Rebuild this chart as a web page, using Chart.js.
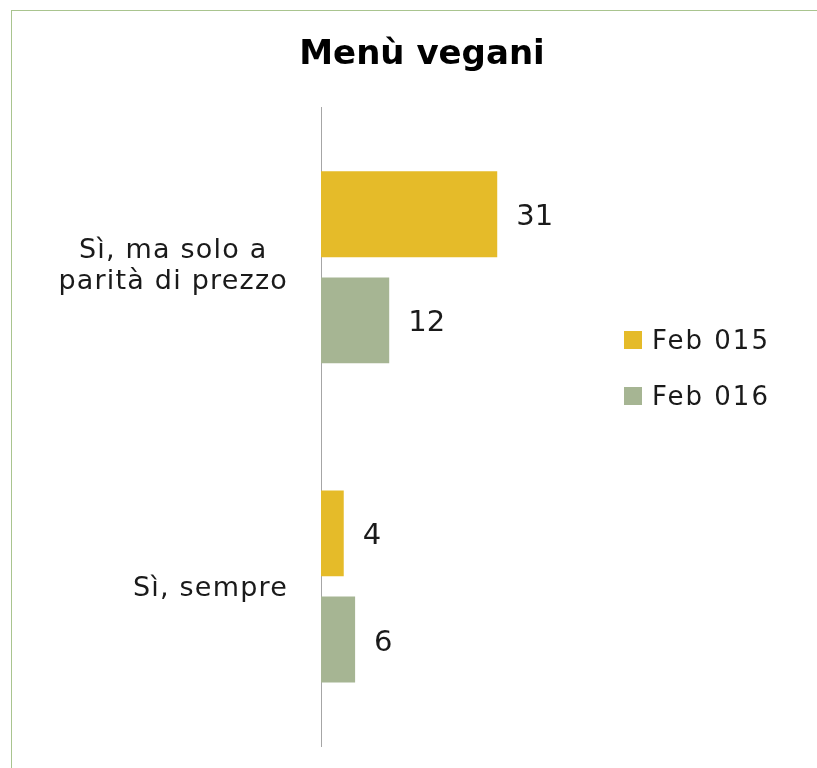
<!DOCTYPE html>
<html><head><meta charset="utf-8">
<script src="https://cdn.jsdelivr.net/npm/chart.js@4/dist/chart.umd.min.js"></script>
<style>
html,body{margin:0;padding:0;background:#fff;overflow:hidden;width:817px;height:768px;}
#frame{position:absolute;left:11px;top:10px;width:900px;height:900px;border:1px solid #a9c48f;box-sizing:border-box;}
#wrap{position:absolute;left:0;top:0;width:844px;height:768px;}
</style></head>
<body>
<div id="frame"></div>
<div id="wrap"><canvas id="c" width="844" height="768"></canvas></div>
<script>
const categories = [['Sì, ma solo a','parità di prezzo'], ['Sì, sempre']];
const seriesNames = ['Feb 015', 'Feb 016'];
const feb015 = [31, 4];
const feb016 = [12, 6];
const colors = ['#e5bb29', '#a6b593'];
const FONT = "'DejaVu Sans', sans-serif";
const TXT = '#1a1a1a';

const valueLabels = {
  id: 'valueLabels',
  afterDatasetsDraw(chart) {
    const ctx = chart.ctx;
    ctx.save();
    ctx.font = '29px ' + FONT;
    ctx.letterSpacing = '0px';
    ctx.fillStyle = TXT;
    ctx.textBaseline = 'alphabetic';
    ctx.textAlign = 'left';
    chart.data.datasets.forEach((ds, i) => {
      chart.getDatasetMeta(i).data.forEach((bar, j) => {
        ctx.fillText(String(ds.data[j]), bar.x + 19, bar.y + 11);
      });
    });
    ctx.restore();
  }
};

const catLabels = {
  id: 'catLabels',
  afterDraw(chart) {
    const ctx = chart.ctx;
    const ys = chart.scales.y;
    ctx.save();
    ctx.font = '27px ' + FONT;
    ctx.letterSpacing = '1.2px';
    ctx.fillStyle = TXT;
    ctx.textBaseline = 'alphabetic';
    ctx.textAlign = 'center';
    const rightEdge = ys.right - 33;
    chart.data.labels.forEach((lines, i) => {
      const y = ys.getPixelForTick(i);
      const w = Math.max(...lines.map(l => ctx.measureText(l).width));
      const cx = rightEdge - w / 2;
      const lh = 31;
      const first = y + 10 - (lines.length - 1) * lh / 2 - (lines.length > 1 ? 3.5 : 0);
      lines.forEach((l, k) => ctx.fillText(l, cx, first + k * lh));
    });
    ctx.restore();
  }
};

const sideLegend = {
  id: 'sideLegend',
  afterDraw(chart) {
    const ctx = chart.ctx;
    ctx.save();
    ctx.font = '26px ' + FONT;
    ctx.letterSpacing = '2px';
    ctx.textBaseline = 'alphabetic';
    ctx.textAlign = 'left';
    chart.data.datasets.forEach((ds, i) => {
      const base = 349 + i * 56;
      ctx.fillStyle = ds.backgroundColor;
      ctx.fillRect(624, base - 18, 18, 18);
      ctx.fillStyle = TXT;
      ctx.fillText(ds.label, 652, base);
    });
    ctx.restore();
  }
};

new Chart(document.getElementById('c'), {
  type: 'bar',
  data: {
    labels: categories,
    datasets: [
      { label: seriesNames[0], data: feb015, backgroundColor: colors[0] },
      { label: seriesNames[1], data: feb016, backgroundColor: colors[1] }
    ]
  },
  options: {
    indexAxis: 'y',
    responsive: false,
    animation: false,
    categoryPercentage: 0.665,
    barPercentage: 0.81,
    layout: { padding: { left: 0, right: 0, top: 0, bottom: 22 } },
    plugins: {
      legend: { display: false },
      tooltip: { enabled: false },
      title: {
        display: true,
        text: 'Menù vegani',
        color: '#000',
        font: { family: FONT, size: 34, weight: 'bold', lineHeight: 1.2 },
        padding: { top: 35, bottom: 32 }
      }
    },
    scales: {
      x: { display: false, min: 0, max: 92 },
      y: {
        afterFit(s) { s.width = 321; s.paddingTop = 0; s.paddingBottom = 0; },
        grid: { display: false, drawTicks: false },
        border: { display: true, color: '#a6a6a6', width: 1 },
        ticks: { display: false }
      }
    }
  },
  plugins: [valueLabels, catLabels, sideLegend]
});
</script>
</body></html>
